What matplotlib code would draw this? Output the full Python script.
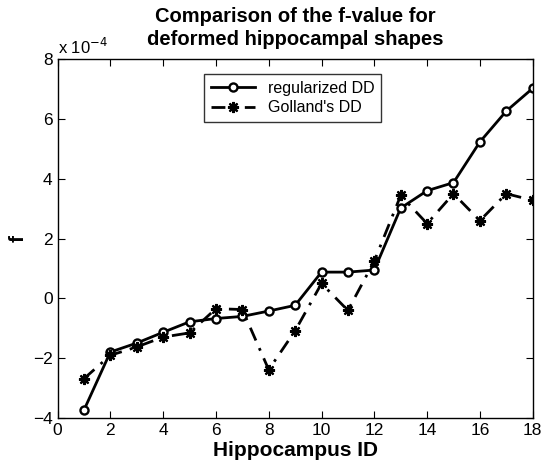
import numpy as np
import matplotlib
matplotlib.use('Agg')
import matplotlib.pyplot as plt

plt.rcParams['font.family'] = ['Liberation Sans', 'DejaVu Sans']

# data (units of 1e-4)
hippo_id = np.arange(1, 19)
regularized = [-3.73, -1.79, -1.49, -1.13, -0.78, -0.67, -0.6, -0.42, -0.23,
               0.88, 0.88, 0.95, 3.02, 3.6, 3.87, 5.23, 6.26, 7.02]
golland = [-2.68, -1.9, -1.62, -1.29, -1.15, -0.34, -0.37, -2.38, -1.08,
           0.5, -0.4, 1.25, 3.44, 2.5, 3.5, 2.6, 3.5, 3.28]

fig = plt.figure(figsize=(5.43, 4.72), dpi=100)
ax = fig.add_axes([0.106, 0.114, 0.875, 0.761])

ax.plot(hippo_id, regularized, '-', color='black', lw=2, marker='o',
        ms=5.8, mfc='white', mec='black', mew=1.7, label='regularized DD')
ax.plot(hippo_id, golland, color='black', lw=2, dashes=(5, 3, 1, 3),
        marker=(8, 2, 0), ms=8, mec='black', mew=1.6, label="Golland's DD")

ax.set_xlim(0, 18)
ax.set_ylim(-4, 8)
ax.set_xticks(range(0, 19, 2))
ax.set_yticks(range(-4, 9, 2))
ax.tick_params(direction='in', top=True, right=True, labelsize=12.5, length=5)
for s in ax.spines.values():
    s.set_linewidth(1)

ax.text(0.0, 1.005, r'x 10$^{-4}$', transform=ax.transAxes, fontsize=12,
        ha='left', va='bottom')
ax.set_title('Comparison of the f-value for\ndeformed hippocampal shapes',
             fontsize=14.5, fontweight='bold', linespacing=1.3, pad=10)
ax.set_xlabel('Hippocampus ID', fontsize=15, fontweight='bold', labelpad=2)
ax.set_ylabel('f', fontsize=15, fontweight='bold')

leg = ax.legend(loc='upper center', bbox_to_anchor=(0.495, 0.98), fontsize=11.5,
                frameon=True, fancybox=False, edgecolor='black',
                handlelength=2.8, borderpad=0.4, labelspacing=0.3)
leg.get_frame().set_linewidth(1)

fig.savefig('out.png', dpi=100)
